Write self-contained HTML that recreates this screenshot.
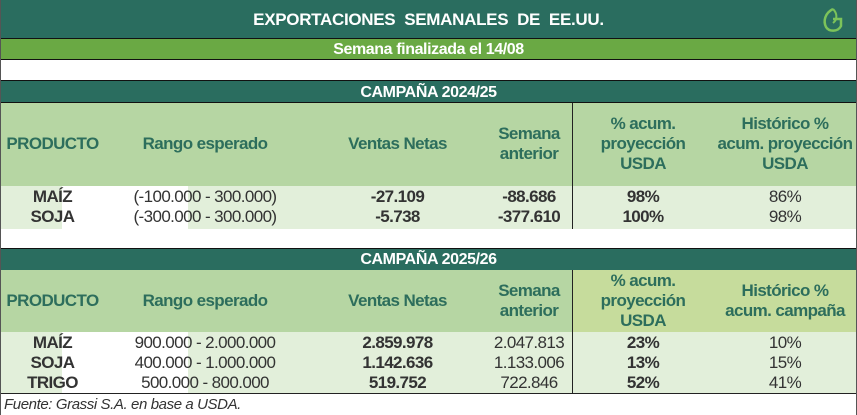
<!DOCTYPE html><html><head><meta charset="utf-8"><style>
body{margin:0;width:857px;height:415px;overflow:hidden;background:#fff;font-family:"Liberation Sans",sans-serif;position:relative}
div{position:absolute;box-sizing:border-box}
.t{text-align:center;white-space:nowrap}
.dk{background:#2a6d5f;color:#fff;font-weight:bold}
.hd{font-weight:bold;color:#2d6e5c;font-size:17px;line-height:20px;letter-spacing:-0.6px}
.r{font-size:17px;line-height:20px;color:#333;letter-spacing:-0.6px}
.b{font-weight:bold}
</style></head><body>
<div class="dk t" style="left:0;top:0;width:857px;height:39px;font-size:17px;line-height:39px;border-bottom:1px solid #111;letter-spacing:-0.3px">EXPORTACIONES&nbsp; SEMANALES&nbsp; DE&nbsp; EE.UU.</div>
<svg style="position:absolute;left:820px;top:7px" width="26" height="26" viewBox="0 0 26 26"><path d="M13 2 C5 6 3 14 6 20 C9 25 18 25 21 19 L21 12 L13 12" fill="none" stroke="#7cc35a" stroke-width="2.5"/><path d="M13 2 C17 6 18 12 13 16" fill="none" stroke="#7cc35a" stroke-width="2"/></svg>
<div class="t" style="left:0;top:39px;width:857px;height:21px;background:#6aa944;color:#fff;font-weight:bold;font-size:16px;line-height:21px;border-bottom:1px solid #111;letter-spacing:-0.4px">Semana finalizada el 14/08</div>
<div class="dk t" style="left:0;top:80px;width:857px;height:23px;font-size:16px;line-height:23px;border-top:1px solid #111;border-bottom:1px solid #111;letter-spacing:-0.4px">CAMPAÑA 2024/25</div>
<div style="left:0;top:103px;width:857px;height:83px;background:#b6d6a3"></div>
<div style="left:0;top:186px;width:857px;height:43px;background:#e2efda"></div>
<div style="left:62px;top:186px;width:126px;height:43px;background:#fff"></div>
<div style="left:572px;top:103px;width:1px;height:126px;background:#222"></div>
<div class="hd t" style="left:0;top:134px;width:105px">PRODUCTO</div>
<div class="hd t" style="left:120px;top:134px;width:170px">Rango esperado</div>
<div class="hd t" style="left:330px;top:134px;width:135px">Ventas Netas</div>
<div class="hd t" style="left:480px;top:124px;width:98px">Semana<br>anterior</div>
<div class="hd t" style="left:573px;top:114px;width:140px">% acum.<br>proyección<br>USDA</div>
<div class="hd t" style="left:713px;top:114px;width:144px">Histórico %<br>acum. proyección<br>USDA</div>
<div class="r t b" style="left:0;top:187px;width:105px">MAÍZ<br>SOJA</div>
<div class="r t" style="left:120px;top:187px;width:170px">(-100.000 - 300.000)<br>(-300.000 - 300.000)</div>
<div class="r t b" style="left:330px;top:187px;width:135px">-27.109<br>-5.738</div>
<div class="r t b" style="left:480px;top:187px;width:98px">-88.686<br>-377.610</div>
<div class="r t b" style="left:573px;top:187px;width:140px">98%<br>100%</div>
<div class="r t" style="left:713px;top:187px;width:144px">86%<br>98%</div>
<div class="dk t" style="left:0;top:248px;width:857px;height:22px;font-size:16px;line-height:22px;border-top:1px solid #111;letter-spacing:-0.4px">CAMPAÑA 2025/26</div>
<div style="left:0;top:270px;width:857px;height:62px;background:#b6d6a3"></div>
<div style="left:573px;top:270px;width:284px;height:62px;background:#c6dc9c"></div>
<div style="left:0;top:332px;width:857px;height:62px;background:#e2efda"></div>
<div style="left:62px;top:332px;width:126px;height:62px;background:#fff"></div>
<div style="left:572px;top:270px;width:1px;height:124px;background:#222"></div>
<div style="left:0;top:393px;width:857px;height:1px;background:#222"></div>
<div class="hd t" style="left:0;top:291px;width:105px">PRODUCTO</div>
<div class="hd t" style="left:120px;top:291px;width:170px">Rango esperado</div>
<div class="hd t" style="left:330px;top:291px;width:135px">Ventas Netas</div>
<div class="hd t" style="left:480px;top:281px;width:98px">Semana<br>anterior</div>
<div class="hd t" style="left:573px;top:271px;width:140px">% acum.<br>proyección<br>USDA</div>
<div class="hd t" style="left:713px;top:281px;width:144px">Histórico %<br>acum. campaña</div>
<div class="r t b" style="left:0;top:333px;width:105px">MAÍZ<br>SOJA<br>TRIGO</div>
<div class="r t" style="left:120px;top:333px;width:170px">900.000 - 2.000.000<br>400.000 - 1.000.000<br>500.000 - 800.000</div>
<div class="r t b" style="left:330px;top:333px;width:135px">2.859.978<br>1.142.636<br>519.752</div>
<div class="r t" style="left:480px;top:333px;width:98px">2.047.813<br>1.133.006<br>722.846</div>
<div class="r t b" style="left:573px;top:333px;width:140px">23%<br>13%<br>52%</div>
<div class="r t" style="left:713px;top:333px;width:144px">10%<br>15%<br>41%</div>
<div style="left:4px;top:395px;font-size:15px;line-height:19px;font-style:italic;color:#333;letter-spacing:-0.4px">Fuente: Grassi S.A. en base a USDA.</div>
<div style="left:0;top:0;width:857px;height:415px;border-left:1px solid #555;border-right:1px solid #555"></div>
</body></html>
